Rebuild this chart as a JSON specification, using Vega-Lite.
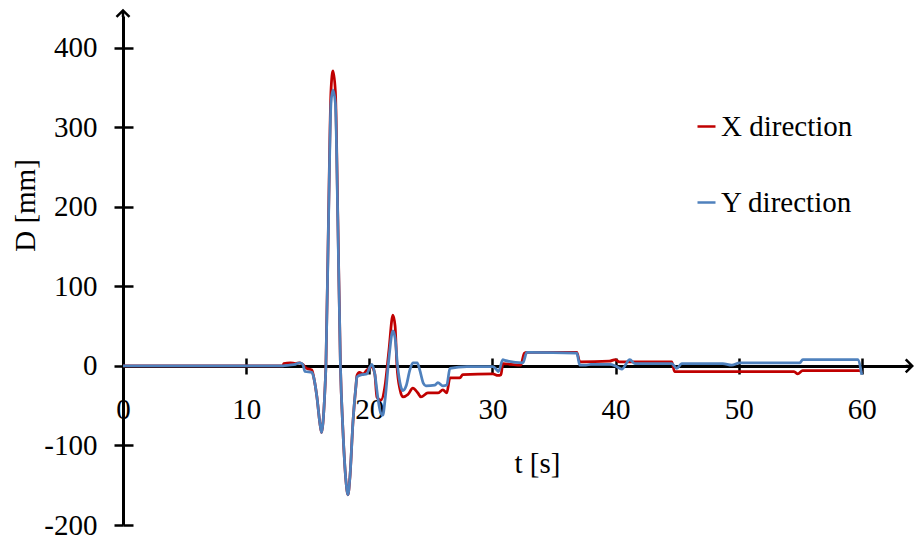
{
  "$schema": "https://vega.github.io/schema/vega-lite/v6.json",
  "width": 788,
  "height": 509,
  "autosize": {"type": "none"},
  "padding": {"left": 123, "top": 16, "right": 3, "bottom": 12},
  "background": "white",
  "config": {
    "view": {"stroke": null},
    "font": "Liberation Serif",
    "axis": {"labelFont": "Liberation Serif", "titleFont": "Liberation Serif"},
    "legend": {"labelFont": "Liberation Serif", "titleFont": "Liberation Serif"}
  },
  "datasets": {
    "series": [
      {"t": 0, "D": 0, "s": "X direction"}, {"t": 13.0, "D": 0, "s": "X direction"}, {"t": 13.05, "D": 3, "s": "X direction"}, {"t": 13.6, "D": 4, "s": "X direction"}, {"t": 14.0, "D": 3, "s": "X direction"}, {"t": 14.37, "D": 4, "s": "X direction"}, {"t": 14.6, "D": 2, "s": "X direction"}, {"t": 14.9, "D": -3, "s": "X direction"}, {"t": 15.34, "D": -5, "s": "X direction"}, {"t": 15.5, "D": -15, "s": "X direction"}, {"t": 15.75, "D": -39, "s": "X direction"}, {"t": 15.99, "D": -72, "s": "X direction"}, {"t": 16.13, "D": -84, "s": "X direction"}, {"t": 16.24, "D": -72, "s": "X direction"}, {"t": 16.4, "D": -30, "s": "X direction"}, {"t": 16.48, "D": 0, "s": "X direction"}, {"t": 16.69, "D": 185, "s": "X direction"}, {"t": 16.89, "D": 345, "s": "X direction"}, {"t": 17.05, "D": 371, "s": "X direction"}, {"t": 17.25, "D": 345, "s": "X direction"}, {"t": 17.45, "D": 185, "s": "X direction"}, {"t": 17.66, "D": 0, "s": "X direction"}, {"t": 17.86, "D": -80, "s": "X direction"}, {"t": 18.11, "D": -145, "s": "X direction"}, {"t": 18.27, "D": -162, "s": "X direction"}, {"t": 18.43, "D": -140, "s": "X direction"}, {"t": 18.68, "D": -70, "s": "X direction"}, {"t": 18.92, "D": -25, "s": "X direction"}, {"t": 19.0, "D": -12, "s": "X direction"}, {"t": 19.2, "D": -8, "s": "X direction"}, {"t": 19.5, "D": -10, "s": "X direction"}, {"t": 19.81, "D": -5, "s": "X direction"}, {"t": 20.2, "D": -1, "s": "X direction"}, {"t": 20.45, "D": -10, "s": "X direction"}, {"t": 20.62, "D": -39, "s": "X direction"}, {"t": 20.95, "D": -43, "s": "X direction"}, {"t": 21.27, "D": -26, "s": "X direction"}, {"t": 21.6, "D": 20, "s": "X direction"}, {"t": 21.92, "D": 64, "s": "X direction"}, {"t": 22.1, "D": 50, "s": "X direction"}, {"t": 22.25, "D": 0, "s": "X direction"}, {"t": 22.5, "D": -30, "s": "X direction"}, {"t": 22.73, "D": -39, "s": "X direction"}, {"t": 23.14, "D": -36, "s": "X direction"}, {"t": 23.54, "D": -28, "s": "X direction"}, {"t": 23.95, "D": -34, "s": "X direction"}, {"t": 24.2, "D": -39, "s": "X direction"}, {"t": 24.76, "D": -34, "s": "X direction"}, {"t": 25.57, "D": -34, "s": "X direction"}, {"t": 25.98, "D": -30, "s": "X direction"}, {"t": 26.3, "D": -34, "s": "X direction"}, {"t": 26.55, "D": -15, "s": "X direction"}, {"t": 27.36, "D": -15, "s": "X direction"}, {"t": 27.6, "D": -11, "s": "X direction"}, {"t": 30.04, "D": -10, "s": "X direction"}, {"t": 30.45, "D": -12, "s": "X direction"}, {"t": 30.7, "D": -11, "s": "X direction"}, {"t": 30.85, "D": 3, "s": "X direction"}, {"t": 31.5, "D": 2, "s": "X direction"}, {"t": 32.3, "D": 1, "s": "X direction"}, {"t": 32.6, "D": 16, "s": "X direction"}, {"t": 32.8, "D": 17, "s": "X direction"}, {"t": 36.86, "D": 17, "s": "X direction"}, {"t": 37.1, "D": 5, "s": "X direction"}, {"t": 39.5, "D": 6, "s": "X direction"}, {"t": 40.0, "D": 8, "s": "X direction"}, {"t": 40.3, "D": 5, "s": "X direction"}, {"t": 44.57, "D": 5, "s": "X direction"}, {"t": 44.8, "D": -7, "s": "X direction"}, {"t": 54.5, "D": -7, "s": "X direction"}, {"t": 54.8, "D": -10, "s": "X direction"}, {"t": 55.2, "D": -6, "s": "X direction"}, {"t": 59.8, "D": -6, "s": "X direction"}, {"t": 60.0, "D": -8, "s": "X direction"},
      {"t": 0, "D": 0, "s": "Y direction"}, {"t": 13.0, "D": 0, "s": "Y direction"}, {"t": 13.5, "D": 1, "s": "Y direction"}, {"t": 14.0, "D": 2, "s": "Y direction"}, {"t": 14.37, "D": 4, "s": "Y direction"}, {"t": 14.6, "D": 2, "s": "Y direction"}, {"t": 14.78, "D": -7, "s": "Y direction"}, {"t": 15.34, "D": -8, "s": "Y direction"}, {"t": 15.5, "D": -15, "s": "Y direction"}, {"t": 15.75, "D": -39, "s": "Y direction"}, {"t": 15.99, "D": -72, "s": "Y direction"}, {"t": 16.13, "D": -84, "s": "Y direction"}, {"t": 16.24, "D": -72, "s": "Y direction"}, {"t": 16.4, "D": -30, "s": "Y direction"}, {"t": 16.48, "D": 0, "s": "Y direction"}, {"t": 16.69, "D": 180, "s": "Y direction"}, {"t": 16.89, "D": 330, "s": "Y direction"}, {"t": 17.05, "D": 347, "s": "Y direction"}, {"t": 17.25, "D": 330, "s": "Y direction"}, {"t": 17.45, "D": 180, "s": "Y direction"}, {"t": 17.66, "D": 0, "s": "Y direction"}, {"t": 17.86, "D": -80, "s": "Y direction"}, {"t": 18.11, "D": -145, "s": "Y direction"}, {"t": 18.27, "D": -162, "s": "Y direction"}, {"t": 18.43, "D": -140, "s": "Y direction"}, {"t": 18.68, "D": -70, "s": "Y direction"}, {"t": 18.92, "D": -25, "s": "Y direction"}, {"t": 19.0, "D": -14, "s": "Y direction"}, {"t": 19.4, "D": -11, "s": "Y direction"}, {"t": 19.81, "D": -10, "s": "Y direction"}, {"t": 20.0, "D": -3, "s": "Y direction"}, {"t": 20.22, "D": 2, "s": "Y direction"}, {"t": 20.45, "D": -10, "s": "Y direction"}, {"t": 20.7, "D": -40, "s": "Y direction"}, {"t": 20.95, "D": -60, "s": "Y direction"}, {"t": 21.1, "D": -62, "s": "Y direction"}, {"t": 21.3, "D": -40, "s": "Y direction"}, {"t": 21.6, "D": 10, "s": "Y direction"}, {"t": 21.92, "D": 44, "s": "Y direction"}, {"t": 22.1, "D": 35, "s": "Y direction"}, {"t": 22.3, "D": 0, "s": "Y direction"}, {"t": 22.55, "D": -25, "s": "Y direction"}, {"t": 22.73, "D": -31, "s": "Y direction"}, {"t": 23.0, "D": -25, "s": "Y direction"}, {"t": 23.3, "D": -5, "s": "Y direction"}, {"t": 23.54, "D": 4, "s": "Y direction"}, {"t": 23.9, "D": 4, "s": "Y direction"}, {"t": 24.1, "D": -5, "s": "Y direction"}, {"t": 24.4, "D": -22, "s": "Y direction"}, {"t": 24.6, "D": -25, "s": "Y direction"}, {"t": 25.33, "D": -24, "s": "Y direction"}, {"t": 25.57, "D": -21, "s": "Y direction"}, {"t": 25.98, "D": -25, "s": "Y direction"}, {"t": 26.3, "D": -24, "s": "Y direction"}, {"t": 26.55, "D": -3, "s": "Y direction"}, {"t": 27.93, "D": -1, "s": "Y direction"}, {"t": 30.04, "D": -1, "s": "Y direction"}, {"t": 30.3, "D": -4, "s": "Y direction"}, {"t": 30.5, "D": -7, "s": "Y direction"}, {"t": 30.85, "D": 8, "s": "Y direction"}, {"t": 31.0, "D": 7, "s": "Y direction"}, {"t": 32.48, "D": 4, "s": "Y direction"}, {"t": 32.8, "D": 17, "s": "Y direction"}, {"t": 33.0, "D": 17, "s": "Y direction"}, {"t": 36.86, "D": 16, "s": "Y direction"}, {"t": 37.1, "D": 1, "s": "Y direction"}, {"t": 37.6, "D": 1, "s": "Y direction"}, {"t": 38.0, "D": 2, "s": "Y direction"}, {"t": 39.54, "D": 2, "s": "Y direction"}, {"t": 40.0, "D": 0, "s": "Y direction"}, {"t": 40.51, "D": -4, "s": "Y direction"}, {"t": 41.16, "D": 8, "s": "Y direction"}, {"t": 41.57, "D": 3, "s": "Y direction"}, {"t": 44.57, "D": 3, "s": "Y direction"}, {"t": 44.98, "D": -3, "s": "Y direction"}, {"t": 45.38, "D": 3, "s": "Y direction"}, {"t": 48.71, "D": 3, "s": "Y direction"}, {"t": 49.44, "D": 1, "s": "Y direction"}, {"t": 50.09, "D": 4, "s": "Y direction"}, {"t": 54.97, "D": 4, "s": "Y direction"}, {"t": 55.21, "D": 8, "s": "Y direction"}, {"t": 59.67, "D": 8, "s": "Y direction"}, {"t": 60.0, "D": -11, "s": "Y direction"}
    ],
    "arrows": [
      {"t": 0, "D": 447, "dir": "up"},
      {"t": 64.1, "D": 0, "dir": "right"}
    ]
  },
  "layer": [
    {
      "data": {"name": "series"},
      "mark": {"type": "line", "interpolate": "monotone", "strokeWidth": 2.75},
      "encoding": {
        "x": {
          "field": "t", "type": "quantitative",
          "scale": {"domain": [0, 64], "nice": false, "zero": false},
          "axis": {
            "orient": "bottom", "offset": -159, "values": [0, 10, 20, 30, 40, 50, 60],
            "grid": false, "domainColor": "black", "domainWidth": 3,
            "tickColor": "black", "tickWidth": 2.5, "tickSize": 8,
            "labelFont": "Liberation Serif", "labelFontSize": 29, "labelColor": "black", "labelPadding": 21, "labelFlush": false,
            "title": "t [s]", "titleFont": "Liberation Serif", "titleFontSize": 29, "titleFontWeight": "normal", "titleColor": "black",
            "titleX": 414, "titleY": 97, "titleBaseline": "middle", "titleAlign": "center"
          }
        },
        "y": {
          "field": "D", "type": "quantitative",
          "scale": {"domain": [-200, 440], "nice": false, "zero": false},
          "axis": {
            "orient": "left", "values": [-200, -100, 0, 100, 200, 300, 400],
            "labelExpr": "replace(datum.label, '\u2212', '-')",
            "grid": false, "domainColor": "black", "domainWidth": 3,
            "tickColor": "black", "tickWidth": 2.5, "tickSize": 9,
            "labelFont": "Liberation Serif", "labelFontSize": 29, "labelColor": "black", "labelPadding": 17,
            "title": "D [mm]", "titleFont": "Liberation Serif", "titleFontSize": 29, "titleFontWeight": "normal", "titleColor": "black",
            "titleX": -98, "titleY": 189, "titleAngle": -90, "titleBaseline": "middle", "titleAlign": "center"
          }
        },
        "color": {
          "field": "s", "type": "nominal",
          "scale": {"domain": ["X direction", "Y direction"], "range": ["#C00000", "#4F81BD"]},
          "legend": {
            "orient": "none", "legendX": 569, "legendY": 96, "title": null,
            "symbolType": "stroke", "symbolSize": 324, "symbolStrokeWidth": 2.5,
            "labelFont": "Liberation Serif", "labelFontSize": 29, "labelColor": "black",
            "labelOffset": 0, "rowPadding": 46, "padding": 0
          }
        }
      }
    },
    {
      "data": {"name": "arrows"},
      "mark": {"type": "point", "filled": false, "stroke": "black", "strokeWidth": 2.5, "size": 169, "opacity": 1},
      "encoding": {
        "x": {
          "field": "t", "type": "quantitative",
          "axis": {
            "orient": "bottom", "offset": -159, "values": [0, 10, 20, 30, 40, 50, 60],
            "grid": false, "domain": false, "labels": false, "title": null,
            "tickColor": "black", "tickWidth": 2.5, "tickSize": -8
          }
        },
        "y": {
          "field": "D", "type": "quantitative",
          "axis": {
            "orient": "left", "values": [-200, -100, 0, 100, 200, 300, 400],
            "grid": false, "domain": false, "labels": false, "title": null,
            "tickColor": "black", "tickWidth": 2.5, "tickSize": -10
          }
        },
        "shape": {
          "field": "dir", "type": "nominal",
          "scale": {"domain": ["up", "right"], "range": ["M-1,1L0,0L1,1M0,0L0,1", "M-1,-1L0,0L-1,1M0,0L-1,0"]},
          "legend": null
        }
      }
    }
  ],
  "resolve": {"axis": {"x": "independent", "y": "independent"}}
}
